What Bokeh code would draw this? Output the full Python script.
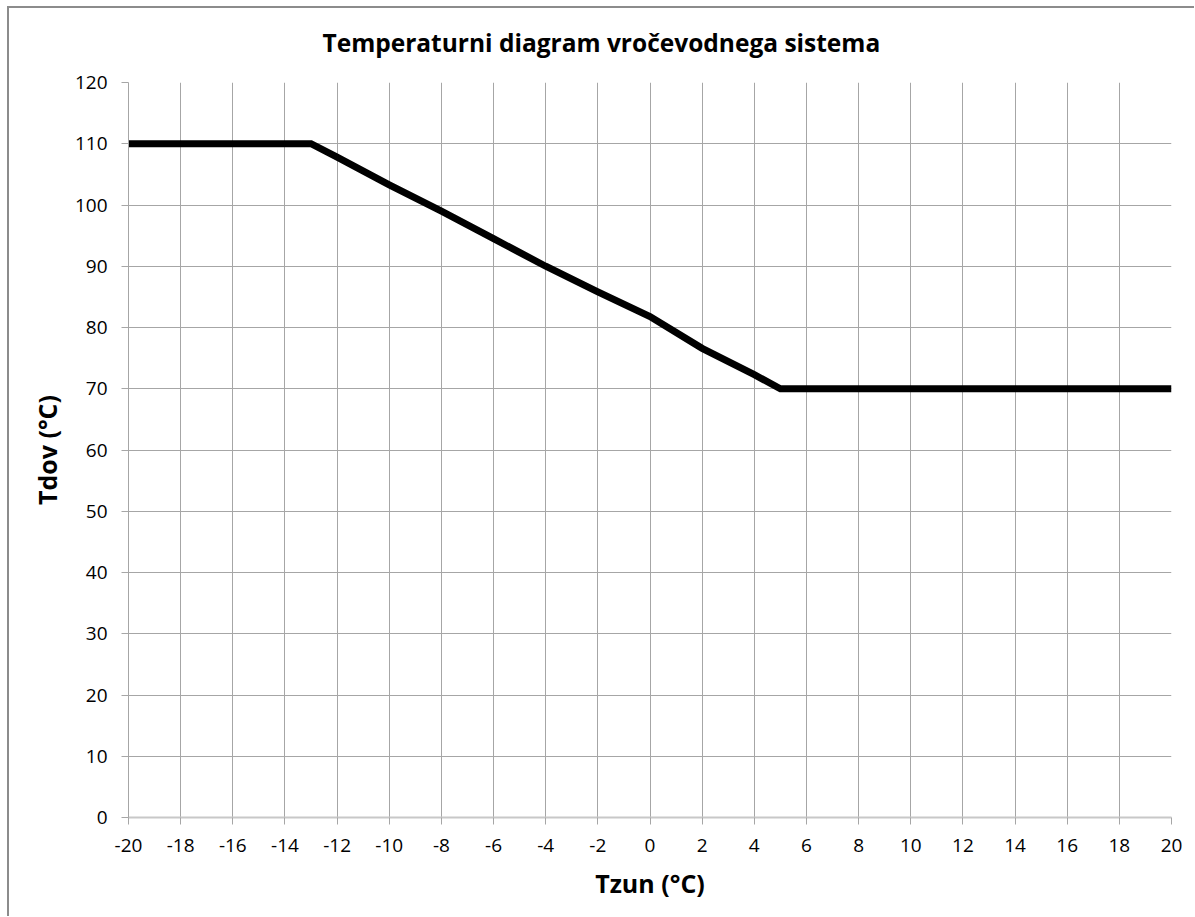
from bokeh.plotting import figure
from bokeh.models import Range1d, FixedTicker, CustomJSTickFormatter
from bokeh.embed import file_html
from bokeh.resources import INLINE

# Data
tzun = [-20, -13, -12, -10, -8, -6, -4, -2, 0, 2, 4, 5, 20]
tdov = [110, 110, 107.8, 103.3, 99, 94.5, 90, 85.8, 81.8, 76.6, 72.3, 70, 70]

x_ticks = list(range(-20, 21, 2))
y_ticks = list(range(0, 121, 10))

title_text = "Temperaturni diagram vročevodnega sistema"
x_label = "Tzun (°C)"
y_label = "Tdov (°C)"

FONT = "Open Sans"
GRID = "#a6a6a6"
EDGE = "linear-gradient(#8c8c8c, #8c8c8c)"

# chart-area frame (top and left edges) painted behind the transparent border area
frame_css = (f"{EDGE} 7px 6px / 2px 100% no-repeat, "
             f"{EDGE} 7px 6px / 100% 2px no-repeat, #ffffff")

p = figure(width=1194, height=916, output_backend="svg", toolbar_location=None,
           x_range=Range1d(-20, 20), y_range=Range1d(0, 120),
           min_border_left=128, min_border_right=23,
           min_border_top=81, min_border_bottom=99,
           styles={"background": frame_css})

p.title.text = title_text
p.title.text_font = FONT
p.title.text_font_style = "bold"
p.title.text_font_size = "24.5px"
p.title.align = "left"
p.title.offset = 194
p.title.standoff = 47
p.title.text_color = "black"

p.outline_line_color = None
p.background_fill_color = "white"
p.border_fill_color = None

p.line(tzun, tdov, line_color="black", line_width=7, line_join="miter")

p.xaxis.ticker = FixedTicker(ticks=x_ticks)
p.yaxis.ticker = FixedTicker(ticks=y_ticks)

fmt = "return tick.toFixed(0);"
for ax in (p.xaxis[0], p.yaxis[0]):
    ax.formatter = CustomJSTickFormatter(code=fmt)
    ax.major_label_text_font = FONT
    ax.major_label_text_font_size = "19px"
    ax.major_label_text_color = "black"
    ax.axis_label_text_font = FONT
    ax.axis_label_text_font_style = "bold"
    ax.axis_label_text_font_size = "25px"
    ax.axis_label_text_color = "black"
    ax.major_tick_out = 7
    ax.major_tick_in = 0
    ax.minor_tick_out = 0
    ax.minor_tick_in = 0
    ax.major_tick_line_color = GRID

p.xaxis.axis_label = x_label
p.yaxis.axis_label = y_label
p.xaxis.major_label_standoff = 14
p.yaxis.major_label_standoff = 14
p.xaxis.axis_label_standoff = 11
p.yaxis.axis_label_standoff = 8
p.xaxis.axis_line_color = "#c8c8c8"
p.xaxis.axis_line_width = 2
p.yaxis.axis_line_color = GRID

p.xgrid.ticker = FixedTicker(ticks=x_ticks)
p.ygrid.ticker = FixedTicker(ticks=y_ticks)
p.grid.grid_line_color = GRID
p.grid.grid_line_width = 1

open("out.html", "w").write(file_html(p, INLINE))
